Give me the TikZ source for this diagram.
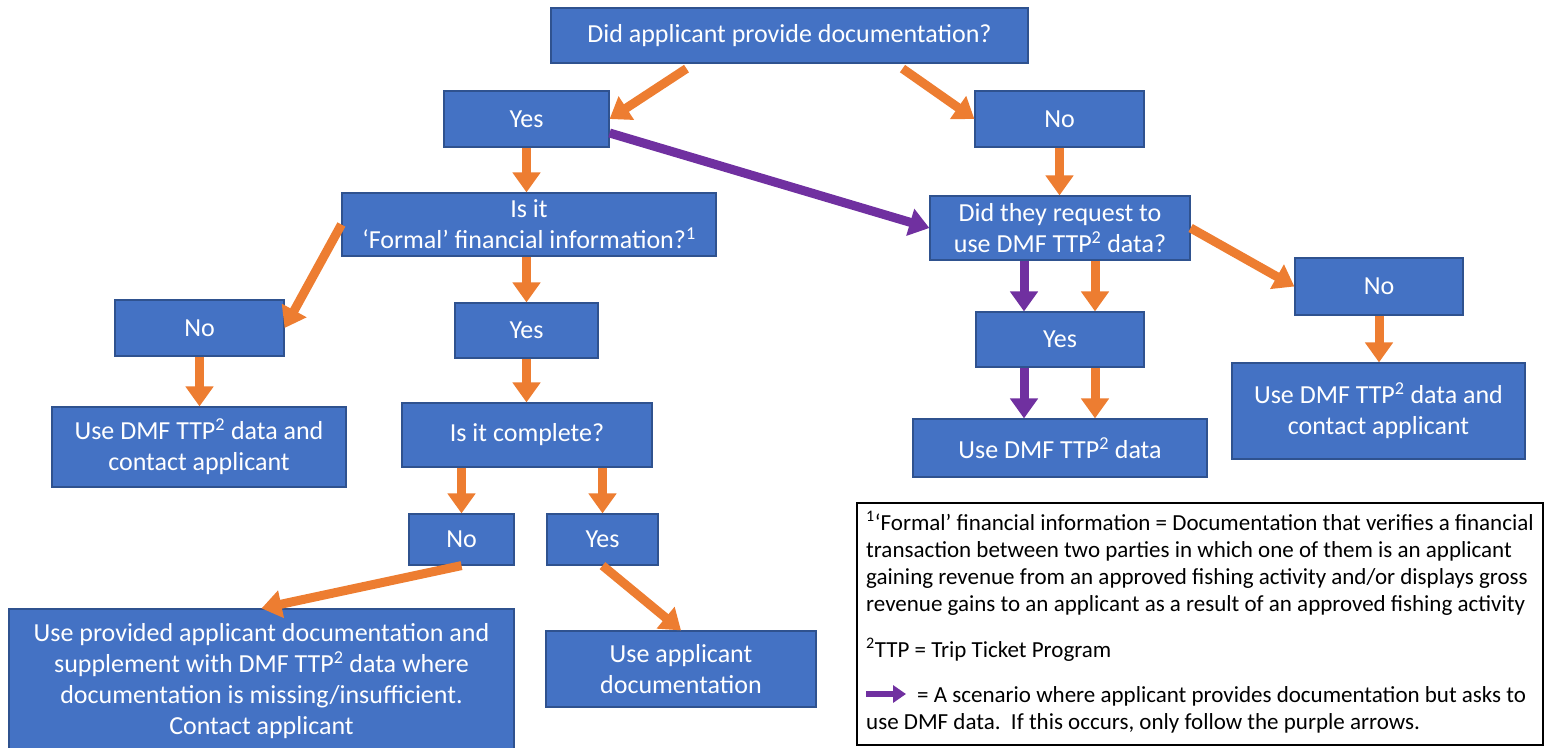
\documentclass[tikz,border=0pt]{standalone}
\usepackage{fontspec}
\setmainfont{Carlito}
\usetikzlibrary{arrows.meta}
\definecolor{boxblue}{HTML}{4472C4}
\definecolor{boxline}{HTML}{2F528F}
\definecolor{arrorange}{HTML}{ED7D31}
\definecolor{arrpurple}{HTML}{7030A0}
\tikzset{
	box/.style={draw=boxline, line width=1.2pt, fill=boxblue, text=white, align=center, inner sep=0pt, font=\fontsize{26}{31}\selectfont},
	oarrow/.style={draw=arrorange, line width=9pt, -{Triangle[width=27pt,length=20pt]}},
	parrow/.style={oarrow, draw=arrpurple},
}
\begin{document}
\begin{tikzpicture}[x=1pt,y=-1pt]
			\useasboundingbox (0,0) rectangle (1546,747);
			\node[box, minimum width=477pt, minimum height=55pt] (q1) at (789.5,35.5) {Did applicant provide documentation?};
			\node[box, minimum width=165pt, minimum height=56pt] (yes1) at (526.5,119) {Yes};
			\node[box, minimum width=169pt, minimum height=56pt] (no1) at (1059.5,119) {No};
			\node[box, minimum width=374pt, minimum height=63pt] (q2) at (529,224.5) {Is it\\ ‘Formal’ financial information?\textsuperscript{1}};
			\node[box, minimum width=260pt, minimum height=64pt] (q3) at (1060,228) {Did they request to\\ use DMF TTP\textsuperscript{2} data?};
			\node[box, minimum width=169pt, minimum height=56pt] (no2) at (199.5,328) {No};
			\node[box, minimum width=143pt, minimum height=55pt] (yes2) at (526.5,330.5) {Yes};
			\node[box, minimum width=168pt, minimum height=55pt] (yes3) at (1060,339.5) {Yes};
			\node[box, minimum width=168pt, minimum height=57pt] (no3) at (1379,286.5) {No};
			\node[box, minimum width=294pt, minimum height=80pt] (use1) at (199,447) {Use DMF TTP\textsuperscript{2} data and\\ contact applicant};
			\node[box, minimum width=250pt, minimum height=64pt] (q4) at (527,435) {Is it complete?};
			\node[box, minimum width=294pt, minimum height=58pt] (use2) at (1060,448) {Use DMF TTP\textsuperscript{2} data};
			\node[box, minimum width=293pt, minimum height=96pt] (use3) at (1378.5,411) {Use DMF TTP\textsuperscript{2} data and\\ contact applicant};
			\node[box, minimum width=105pt, minimum height=51pt] (no4) at (461.5,539.5) {No};
			\node[box, minimum width=111pt, minimum height=51pt] (yes4) at (602.5,539.5) {Yes};
			\node[box, minimum width=505pt, minimum height=145pt] (use4) at (261.5,681.5) {Use provided applicant documentation and\\ supplement with DMF TTP\textsuperscript{2} data where\\ documentation is missing/insufficient.\\ Contact applicant};
			\node[box, minimum width=270pt, minimum height=76pt] (use5) at (681,669) {Use applicant\\ documentation};
			\node[draw=black, line width=1.5pt, minimum width=686pt, minimum height=242pt, inner sep=0pt] (key) at (1200,624) {};
			\node[anchor=north west, align=left, inner sep=0pt, font=\fontsize{23}{27}\selectfont] (keytext) at (866,511) {\textsuperscript{1}‘Formal’ financial information = Documentation that verifies a financial\\ transaction between two parties in which one of them is an applicant\\ gaining revenue from an approved fishing activity and/or displays gross\\ revenue gains to an applicant as a result of an approved fishing activity\\[19pt] \textsuperscript{2}TTP = Trip Ticket Program\\[18pt] \hspace*{51pt}= A scenario where applicant provides documentation but asks to\\ use DMF data.\ \ If this occurs, only follow the purple arrows.};
			\coordinate (k1) at (866,694);
			\coordinate (k2) at (906,694);
			\draw[oarrow] ([xshift=-103pt,yshift=-5pt]q1.south) -- (yes1.east);
			\draw[oarrow] ([xshift=113pt,yshift=-5pt]q1.south) -- (no1.west);
			\draw[oarrow] (yes1.south) -- (yes1.south |- q2.north);
			\draw[oarrow] (no1.south) -- (no1.south |- q3.north);
			\draw[parrow] ([yshift=-14pt]yes1.east) -- (q3.west);
			\draw[oarrow] (q2.west) -- (no2.east);
			\draw[oarrow] (yes2.north |- q2.south) -- (yes2.north);
			\draw[oarrow] (q3.east) -- (no3.west);
			\draw[parrow] ([xshift=-36pt]q3.south) -- ([xshift=-36pt]yes3.north);
			\draw[oarrow] ([xshift=35pt]q3.south) -- ([xshift=35pt]yes3.north);
			\draw[parrow] ([xshift=-36pt]yes3.south) -- ([xshift=-36pt]use2.north);
			\draw[oarrow] ([xshift=35pt]yes3.south) -- ([xshift=35pt]use2.north);
			\draw[oarrow] (no3.south) -- (no3.south |- use3.north);
			\draw[oarrow] (no2.south) -- (no2.south |- use1.north);
			\draw[oarrow] (yes2.south) -- (yes2.south |- q4.north);
			\draw[oarrow] (no4.north |- q4.south) -- (no4.north);
			\draw[oarrow] (yes4.north |- q4.south) -- (yes4.north);
			\draw[oarrow] (no4.south) -- (use4.north);
			\draw[oarrow] (yes4.south) -- (use5.north);
			\draw[parrow, line width=6pt, -{Triangle[width=17pt,length=13pt]}] (k1) -- (k2);
		\end{tikzpicture}
\end{document}
